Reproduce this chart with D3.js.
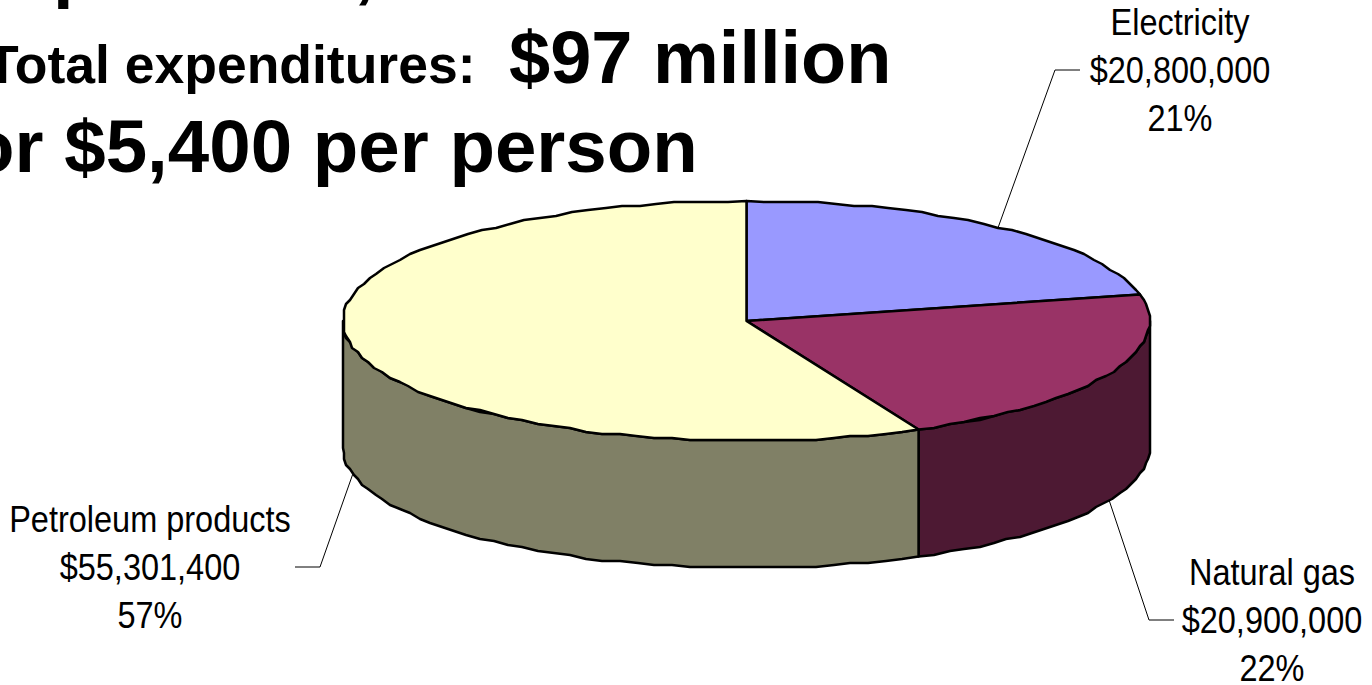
<!doctype html>
<html>
<head>
  <meta charset="UTF-8">
  <title>Total expenditures</title>
  <style type="text/css">
    html, body { margin: 0; padding: 0; background: #fff; overflow: hidden; }
    svg { display: block; }
    text { font-family: "Liberation Sans", Arial, sans-serif; fill: #000; }
  </style>
  <script src="https://cdnjs.cloudflare.com/ajax/libs/d3/7.8.5/d3.min.js"></script>
</head>
<body>
  <div id="chart"></div>
  <script>
    // data
    var categories = ["Electricity", "Natural gas", "Petroleum products"];
    var amounts = [20800000, 20900000, 55301400];
    var amountLabels = ["$20,800,000", "$20,900,000", "$55,301,400"];
    var percentLabels = ["21%", "22%", "57%"];
    var topColors = ["#9999ff", "#993366", "#ffffcc"];
    var wallColors = ["#4d4d80", "#4d1933", "#808066"];

    // heading pieces, the top line is cut off by the edge of the picture
    var titleStrings = ["p", ",", "Total expenditures:", "$97 million", "or $5,400 per person"];
    var titleSizes = [74, 74, 53.5, 74, 74.5];
    var titleX = [53, 354, -14, 509, -31];
    var titleY = [-6, -6, 83, 83, 172];

    // label layout: centre of text block, first baseline, leader elbow and end
    var labelX = [1180, 1272, 150];
    var labelY = [35, 585, 532];
    var elbowX = [1055, 1149, 320];
    var elbowY = [70, 620, 567];
    var leaderEndX = [1080, 1174, 295];

    var w = 1372,
      h = 685,
      depth = 127,
      lineGap = 48,
      tau = Math.PI * 2;

    var x = d3.scaleLinear().domain([-1, 1]).range([343, 1150]),
      y = d3.scaleLinear().domain([-1, 1]).range([201, 441]);

    var arcs = d3.pie().sort(null).value(function(d) { return d; })(amounts);

    var vis = d3.select("#chart").append("svg")
      .attr("width", w)
      .attr("height", h);

    function px(a) { return x(Math.sin(a)); }
    function py(a) { return y(-Math.cos(a)); }

    // rim points along the ellipse, snapped a little to get the rough raster edge of the original
    function rim(a0, a1, dy) {
      var pts = [],
        n = Math.max(2, Math.ceil(Math.abs(a1 - a0) / 0.045));
      for (var i = 0; i <= n; i++) {
        var a = a0 + (a1 - a0) * i / n,
          end = i == 0 || i == n,
          rx = px(a),
          ry = py(a);
        pts.push([end ? rx : Math.round(rx / 2) * 2, (end ? ry : Math.round(ry / 2) * 2) + dy]);
      }
      return pts;
    }

    var line = d3.line();

    // side walls, only the front half of the rim is visible
    var walls = arcs.map(function(d, i) {
      var a0 = Math.max(d.startAngle, tau / 4),
        a1 = Math.min(d.endAngle, tau * 3 / 4);
      if (a1 <= a0) return null;
      return { i: i, d: line(rim(a0, a1, 0).concat(rim(a1, a0, depth))) + "Z" };
    }).filter(Boolean);

    vis.selectAll(".wall")
      .data(walls)
      .enter().append("path")
      .attr("class", "wall")
      .attr("d", function(d) { return d.d; })
      .attr("fill", function(d) { return wallColors[d.i]; })
      .attr("stroke", "#000")
      .attr("stroke-width", 2.5)
      .attr("stroke-linejoin", "round");

    // top face
    vis.selectAll(".slice")
      .data(arcs)
      .enter().append("path")
      .attr("class", "slice")
      .attr("d", function(d) {
        return line([[x(0), y(0)]].concat(rim(d.startAngle, d.endAngle, 0))) + "Z";
      })
      .attr("fill", function(d, i) { return topColors[i]; })
      .attr("stroke", "#000")
      .attr("stroke-width", 2.5)
      .attr("stroke-linejoin", "round");

    // leader lines start at the middle of each slice's rim
    vis.selectAll(".leader")
      .data(arcs)
      .enter().append("path")
      .attr("class", "leader")
      .attr("fill", "none")
      .attr("stroke", "#000")
      .attr("stroke-width", 1)
      .attr("d", function(d, i) {
        var mid = (d.startAngle + d.endAngle) / 2,
          front = mid > tau / 4 && mid < tau * 3 / 4;
        return line([
          [px(mid), py(mid) + (front ? depth : 0)],
          [elbowX[i], elbowY[i]],
          [leaderEndX[i], elbowY[i]]
        ]);
      });

    // labels are narrower than the regular face, squeeze them horizontally
    var labels = vis.selectAll(".label")
      .data(categories)
      .enter().append("g")
      .attr("class", "label")
      .attr("transform", function(d, i) {
        return "translate(" + labelX[i] + "," + labelY[i] + ") scale(0.89,1)";
      });

    labels.selectAll("text")
      .data(function(d, i) { return [d, amountLabels[i], percentLabels[i]]; })
      .enter().append("text")
      .attr("y", function(d, i) { return i * lineGap; })
      .attr("text-anchor", "middle")
      .attr("font-size", 36.5)
      .text(String);

    // heading
    vis.selectAll(".heading")
      .data(titleStrings)
      .enter().append("text")
      .attr("class", "heading")
      .attr("x", function(d, i) { return titleX[i]; })
      .attr("y", function(d, i) { return titleY[i]; })
      .attr("font-size", function(d, i) { return titleSizes[i]; })
      .attr("font-weight", "bold")
      .text(String);
  </script>
</body>
</html>
